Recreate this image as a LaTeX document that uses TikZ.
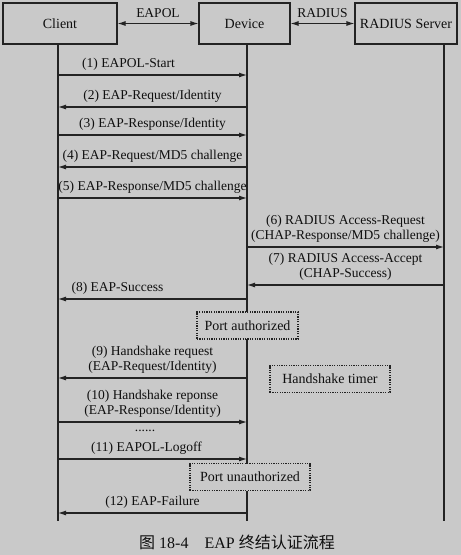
\documentclass[tikz,border=0pt]{standalone}
\usepackage{fontspec}
\setmainfont{Liberation Serif}
\newfontfamily\cjk{Noto Sans CJK SC}
\usepackage{tikz}
\usetikzlibrary{arrows.meta}

\definecolor{paper}{RGB}{201,201,201}
\definecolor{ink}{RGB}{35,35,35}
\definecolor{inktext}{RGB}{15,15,15}

\tikzset{
	entity/.style={draw=ink, fill=paper, line width=1.1pt, minimum height=41pt, inner sep=0pt, font=\fontsize{14}{16}\selectfont},
	life/.style={draw=ink, line width=1.2pt},
	msg/.style={draw=ink, line width=1.1pt, -{Latex[length=8pt,width=5pt]}},
	link/.style={draw=ink, line width=1.1pt, {Latex[length=8pt,width=5pt]}-{Latex[length=8pt,width=5pt]}},
	lbl/.style={above, inner sep=1pt, yshift=3pt, align=center, font=\fontsize{13.5}{15}\selectfont},
	portstate/.style={draw=ink, dash pattern=on 1.2pt off 1.2pt, fill=paper, line width=1.2pt, minimum height=27pt, font=\fontsize{14}{16}\selectfont}
}

\begin{document}
\begin{tikzpicture}[x=1pt, y=-1pt, text=inktext]
\useasboundingbox[fill=paper] (0,0) rectangle (461,555);

% entities
\node[entity, minimum width=114pt] (client) at (60,23.5) {Client};
\node[entity, minimum width=91pt] (device) at (244.5,23.5) {Device};
\node[entity, minimum width=102pt] (server) at (406,23.5) {RADIUS Server};

\draw[link] (client) -- node[lbl, yshift=1pt] {EAPOL} (device);
\draw[link] (device) -- node[lbl, yshift=1pt] {RADIUS} (server);

% lifelines
\coordinate (client end) at (58,521);
\coordinate (device end) at (247,521);
\coordinate (server end) at (444,521);
\draw[life] (client.south -| client end) -- (client end);
\draw[life] (device.south -| device end) -- (device end);
\draw[life] (server.south -| server end) -- (server end);

\foreach \n/\y in {1/75,2/107,3/135,4/167,5/198,6/247,7/285,8/299,9/378,10/422,11/459,12/513}
{
	\coordinate (c\n) at (58,\y);
	\coordinate (d\n) at (247,\y);
	\coordinate (s\n) at (444,\y);
}

% port states
\node[portstate, minimum width=101pt] (authorized) at (247.5,325.5) {Port authorized};
\node[portstate, minimum width=120pt] (timer) at (330,379) {Handshake timer};
\node[portstate, minimum width=120pt] (unauthorized) at (250,477) {Port unauthorized};

% messages
\draw[msg] (c1) -- node[lbl, xshift=-24pt] {(1) EAPOL-Start} (d1);
\draw[msg] (d2) -- node[lbl] {(2) EAP-Request/Identity} (c2);
\draw[msg] (c3) -- node[lbl] {(3) EAP-Response/Identity} (d3);
\draw[msg] (d4) -- node[lbl] {(4) EAP-Request/MD5 challenge} (c4);
\draw[msg] (c5) -- node[lbl] {(5) EAP-Response/MD5 challenge} (d5);
\draw[msg] (d6) -- node[lbl] {(6) RADIUS Access-Request\\(CHAP-Response/MD5 challenge)} (s6);
\draw[msg] (s7) -- node[lbl] {(7) RADIUS Access-Accept\\(CHAP-Success)} (d7);
\draw[msg] (d8) -- node[lbl, xshift=-35pt] {(8) EAP-Success} (c8);
\draw[msg] (d9) -- node[lbl] {(9) Handshake request\\(EAP-Request/Identity)} (c9);
\draw[msg] (c10) -- node[lbl] {(10) Handshake reponse\\(EAP-Response/Identity)} (d10);
\node[font=\fontsize{13.5}{15}\selectfont] (dots) at (145,431) {......};
\draw[msg] (c11) -- node[lbl, xshift=-6pt] {(11) EAPOL-Logoff} (d11);
\draw[msg] (d12) -- node[lbl] {(12) EAP-Failure} (c12);

% caption
\node[font=\fontsize{16}{18}\selectfont] (caption) at (237,542) {{\cjk 图} 18-4\quad EAP {\cjk 终结认证流程}};
\end{tikzpicture}
\end{document}
